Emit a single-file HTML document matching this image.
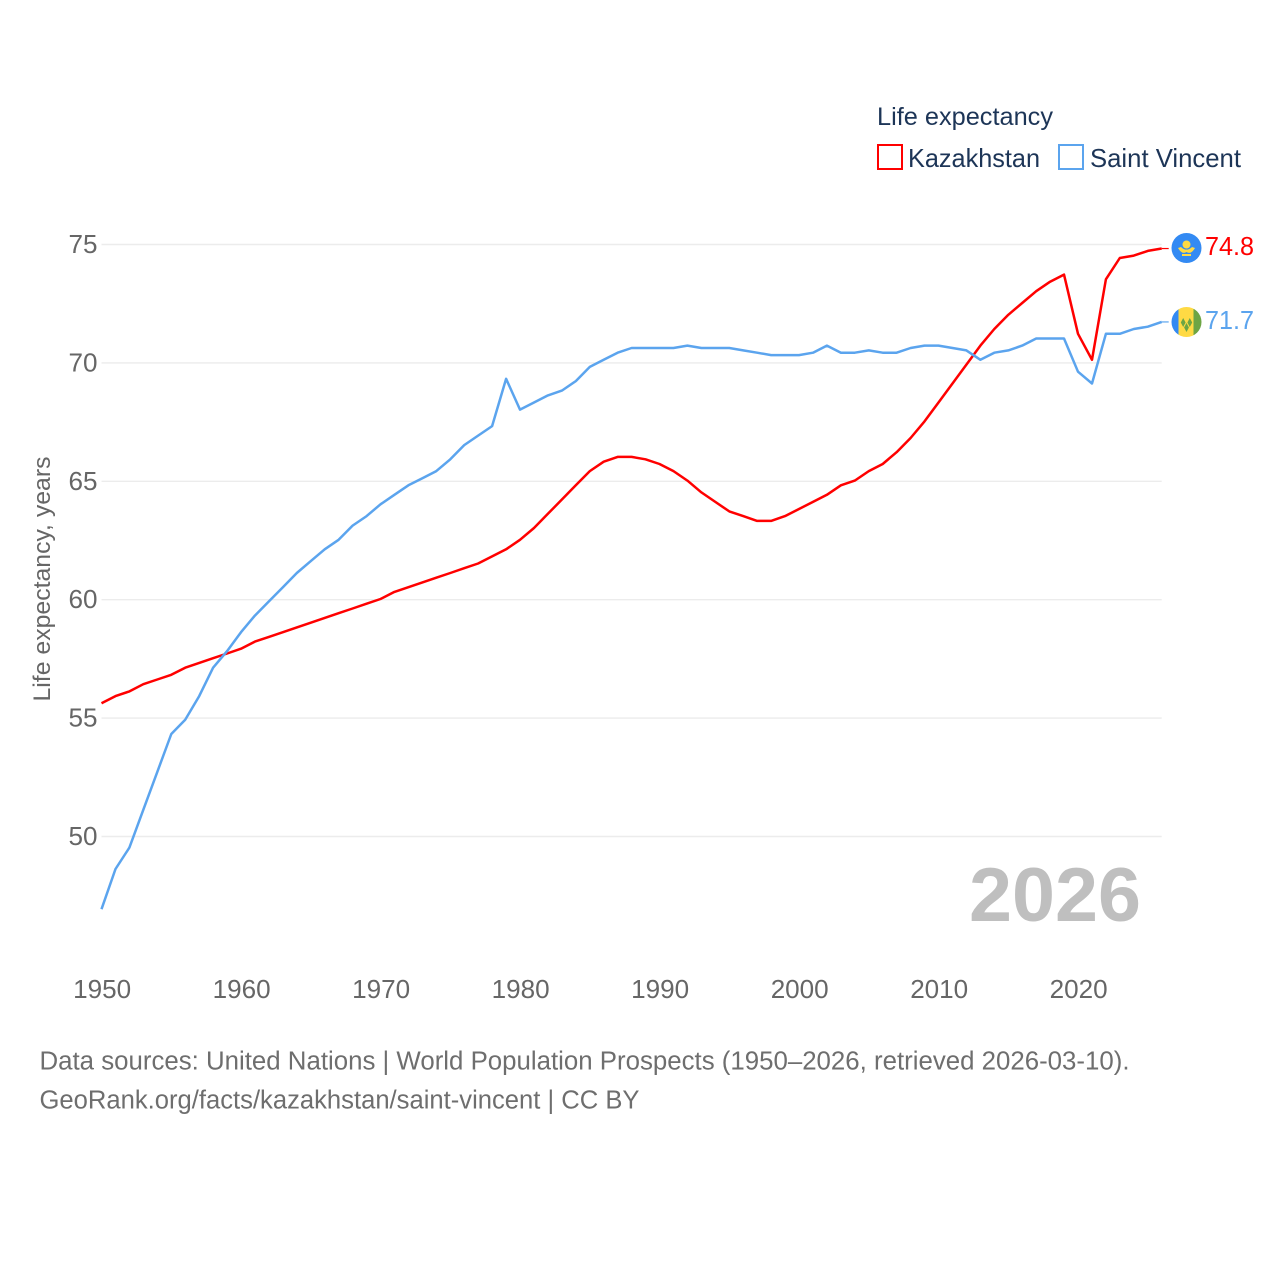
<!DOCTYPE html>
<html lang="en">
<head>
<meta charset="utf-8">
<title>Life expectancy: Kazakhstan and Saint Vincent</title>
<style>
html,body{margin:0;padding:0;background:#fff;}
svg{display:block;font-family:"Liberation Sans",sans-serif;}
</style>
</head>
<body>
<svg id="chart" xmlns="http://www.w3.org/2000/svg" width="1280" height="1280" viewBox="0 0 1280 1280">
  <rect width="1280" height="1280" fill="#fff"/>
  <g id="grid"></g>
  <g id="y-ticks"></g>
  <g id="x-ticks"></g>
  <text transform="translate(50,579) rotate(-90)" text-anchor="middle" font-size="24" fill="#666" textLength="245" lengthAdjust="spacingAndGlyphs">Life expectancy, years</text>
  <text x="969" y="921" font-size="76" font-weight="700" fill="#bfbfbf" textLength="172" lengthAdjust="spacingAndGlyphs">2026</text>
  <g id="series"></g>

  <g>
    <text x="877" y="125" font-size="25" fill="#1d3557" textLength="176" lengthAdjust="spacingAndGlyphs">Life expectancy</text>
    <g>
      <rect x="878" y="145" width="24" height="24" fill="none" stroke="#ff0000" stroke-width="2"/>
      <text x="908" y="167" font-size="26" fill="#1d3557" textLength="132" lengthAdjust="spacingAndGlyphs">Kazakhstan</text>
    </g>
    <g>
      <rect x="1059" y="145" width="24" height="24" fill="none" stroke="#5ba4ee" stroke-width="2"/>
      <text x="1090" y="167" font-size="26" fill="#1d3557" textLength="151" lengthAdjust="spacingAndGlyphs">Saint Vincent</text>
    </g>
  </g>

  <g>
    <circle cx="1186.5" cy="248" r="15" fill="#338af3"/>
    <circle cx="1186.5" cy="244.5" r="4" fill="#ffda44"/>
    <path d="M1178 248 Q1182 255 1186.5 252 Q1191 255 1195 248 L1192 247 Q1189 250 1186.5 249.5 Q1184 250 1181 247 Z" fill="#ffda44"/>
    <rect x="1182" y="254" width="9" height="2" fill="#ffda44"/>
  </g>
  <g>
    <clipPath id="vc-clip"><circle cx="1186.5" cy="322" r="15"/></clipPath>
    <g clip-path="url(#vc-clip)">
      <rect x="1171" y="307" width="7.5" height="30" fill="#338af3"/>
      <rect x="1178.5" y="307" width="15" height="30" fill="#ffda44"/>
      <rect x="1193.5" y="307" width="8" height="30" fill="#6da544"/>
      <path d="M1183.2 318 l-2.4 4.5 2.4 4.5 2.4-4.5z M1189.8 318 l-2.4 4.5 2.4 4.5 2.4-4.5z M1186.5 323 l-2.4 4.5 2.4 4.5 2.4-4.5z" fill="#6da544"/>
    </g>
  </g>
  <text id="end-label-kz" x="1205" y="255" font-size="26" fill="#ff0000" textLength="49" lengthAdjust="spacingAndGlyphs"></text>
  <text id="end-label-vc" x="1205" y="329" font-size="26" fill="#5ba4ee" textLength="49" lengthAdjust="spacingAndGlyphs"></text>

  <g>
    <text x="39.5" y="1069.5" font-size="25.5" fill="#6e6e6e" textLength="1090" lengthAdjust="spacingAndGlyphs">Data sources: United Nations | World Population Prospects (1950–2026, retrieved 2026-03-10).</text>
    <text x="39.5" y="1108.5" font-size="25.5" fill="#6e6e6e" textLength="600" lengthAdjust="spacingAndGlyphs">GeoRank.org/facts/kazakhstan/saint-vincent | CC BY</text>
  </g>
</svg>
<script>
const startYear = 1950;
const kazakhstanValues = [55.6,55.9,56.1,56.4,56.6,56.8,57.1,57.3,57.5,57.7,57.9,58.2,58.4,58.6,58.8,59.0,59.2,59.4,59.6,59.8,60.0,60.3,60.5,60.7,60.9,61.1,61.3,61.5,61.8,62.1,62.5,63.0,63.6,64.2,64.8,65.4,65.8,66.0,66.0,65.9,65.7,65.4,65.0,64.5,64.1,63.7,63.5,63.3,63.3,63.5,63.8,64.1,64.4,64.8,65.0,65.4,65.7,66.2,66.8,67.5,68.3,69.1,69.9,70.7,71.4,72.0,72.5,73.0,73.4,73.7,71.2,70.1,73.5,74.4,74.5,74.7,74.8];
const saintVincentValues = [46.9,48.6,49.5,51.1,52.7,54.3,54.9,55.9,57.1,57.8,58.6,59.3,59.9,60.5,61.1,61.6,62.1,62.5,63.1,63.5,64.0,64.4,64.8,65.1,65.4,65.9,66.5,66.9,67.3,69.3,68.0,68.3,68.6,68.8,69.2,69.8,70.1,70.4,70.6,70.6,70.6,70.6,70.7,70.6,70.6,70.6,70.5,70.4,70.3,70.3,70.3,70.4,70.7,70.4,70.4,70.5,70.4,70.4,70.6,70.7,70.7,70.6,70.5,70.1,70.4,70.5,70.7,71.0,71.0,71.0,69.6,69.1,71.2,71.2,71.4,71.5,71.7];
const yTickValues = [50,55,60,65,70,75];
const xTickValues = [1950,1960,1970,1980,1990,2000,2010,2020];

const NS = 'http://www.w3.org/2000/svg';
const lineOffsetY = -0.7;
function xScale(year) { return 101.5 + (year - 1950) * (1078 - 101.5) / 70; }
function yScale(value) { return 836.5 - (value - 50) * (836.5 - 244.5) / 25; }
function linePoints(values) {
  return values.map(function (v, i) {
    return xScale(startYear + i).toFixed(1) + ',' + (yScale(v) + lineOffsetY).toFixed(1);
  }).join(' ');
}

const gridGroup = document.getElementById('grid');
const yTickGroup = document.getElementById('y-ticks');
const xTickGroup = document.getElementById('x-ticks');
const seriesGroup = document.getElementById('series');

yTickValues.forEach(function (v) {
  const line = document.createElementNS(NS, 'line');
  
  
  line.setAttribute('x1', xScale(1950));
  line.setAttribute('x2', xScale(2026));
  line.setAttribute('y1', yScale(v));
  line.setAttribute('y2', yScale(v));
  line.setAttribute('stroke', '#ececec');
  line.setAttribute('stroke-width', '1.4');
  gridGroup.appendChild(line);

  const label = document.createElementNS(NS, 'text');
  
  
  label.setAttribute('x', 97.5);
  label.setAttribute('y', yScale(v) + 8.5);
  label.setAttribute('text-anchor', 'end');
  label.setAttribute('font-size', '26');
  label.setAttribute('fill', '#666');
  label.setAttribute('textLength', '29');
  label.setAttribute('lengthAdjust', 'spacingAndGlyphs');
  label.textContent = String(v);
  yTickGroup.appendChild(label);
});

xTickValues.forEach(function (year) {
  const label = document.createElementNS(NS, 'text');
  
  
  label.setAttribute('x', xScale(year) + 0.7);
  label.setAttribute('y', 998);
  label.setAttribute('text-anchor', 'middle');
  label.setAttribute('font-size', '26');
  label.setAttribute('fill', '#666');
  label.setAttribute('textLength', '58');
  label.setAttribute('lengthAdjust', 'spacingAndGlyphs');
  label.textContent = String(year);
  xTickGroup.appendChild(label);
});

function drawSeries(values, color, name) {
  const line = document.createElementNS(NS, 'polyline');
  
  
  line.setAttribute('points', linePoints(values));
  line.setAttribute('fill', 'none');
  line.setAttribute('stroke', color);
  line.setAttribute('stroke-width', '2.5');
  line.setAttribute('stroke-linejoin', 'round');
  seriesGroup.appendChild(line);

  const lastValue = values[values.length - 1];
  const connector = document.createElementNS(NS, 'line');
  
  
  connector.setAttribute('x1', xScale(2026));
  connector.setAttribute('x2', xScale(2026) + 7);
  connector.setAttribute('y1', yScale(lastValue) + lineOffsetY);
  connector.setAttribute('y2', yScale(lastValue) + lineOffsetY);
  connector.setAttribute('stroke', color);
  connector.setAttribute('stroke-width', '1.2');
  seriesGroup.appendChild(connector);
}

drawSeries(kazakhstanValues, '#ff0000', 'kazakhstan');
drawSeries(saintVincentValues, '#5ba4ee', 'saint-vincent');

document.getElementById('end-label-kz').textContent = kazakhstanValues[kazakhstanValues.length - 1].toFixed(1);
document.getElementById('end-label-vc').textContent = saintVincentValues[saintVincentValues.length - 1].toFixed(1);
</script>
</body>
</html>
